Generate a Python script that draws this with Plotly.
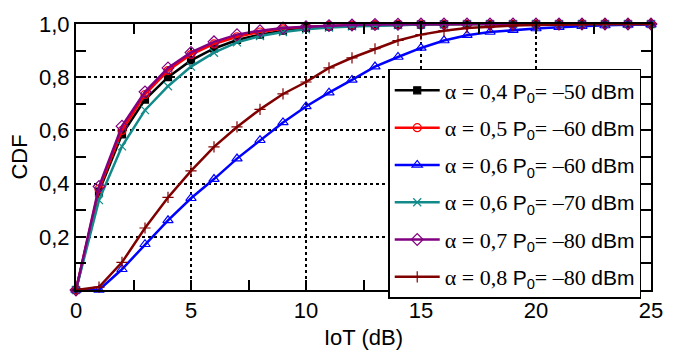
import plotly.graph_objects as go

x = list(range(26))

cdf_a04_p50 = [0, 0.37, 0.585, 0.716, 0.80, 0.863, 0.908, 0.94, 0.96, 0.975, 0.985, 0.99, 0.993, 0.995, 0.997, 0.998, 0.999, 1, 1, 1, 1, 1, 1, 1, 1, 1]
cdf_a05_p60 = [0, 0.38, 0.60, 0.735, 0.825, 0.885, 0.925, 0.952, 0.97, 0.982, 0.99, 0.994, 0.996, 0.998, 0.999, 1, 1, 1, 1, 1, 1, 1, 1, 1, 1, 1]
cdf_a06_p60 = [0, 0.0, 0.078, 0.172, 0.262, 0.345, 0.417, 0.494, 0.563, 0.63, 0.69, 0.742, 0.79, 0.84, 0.876, 0.91, 0.938, 0.958, 0.97, 0.977, 0.983, 0.988, 0.992, 0.995, 0.997, 0.998]
cdf_a06_p70 = [0, 0.338, 0.54, 0.676, 0.766, 0.84, 0.892, 0.931, 0.955, 0.97, 0.98, 0.987, 0.991, 0.994, 0.996, 0.998, 0.999, 1, 1, 1, 1, 1, 1, 1, 1, 1]
cdf_a07_p80 = [0, 0.389, 0.616, 0.745, 0.835, 0.893, 0.933, 0.96, 0.975, 0.985, 0.99, 0.994, 0.996, 0.998, 0.999, 1, 1, 1, 1, 1, 1, 1, 1, 1, 1, 1]
cdf_a08_p80 = [0, 0.011, 0.104, 0.233, 0.348, 0.448, 0.538, 0.613, 0.679, 0.737, 0.782, 0.835, 0.873, 0.907, 0.938, 0.96, 0.975, 0.985, 0.99, 0.994, 0.996, 0.998, 0.999, 1, 1, 1]

alphas = ["0,4", "0,5", "0,6", "0,6", "0,7", "0,8"]
p0s = ["50", "60", "60", "70", "80", "80"]
series = [cdf_a04_p50, cdf_a05_p60, cdf_a06_p60, cdf_a06_p70, cdf_a07_p80, cdf_a08_p80]
colors = ["#000000", "#ff0000", "#0000ff", "#128a8a", "#800080", "#800000"]
symbols = ["square", "circle-open", "triangle-up-open", "x-thin-open", "diamond-open", "cross-thin-open"]
msizes = [7, 8, 9, 8, 9, 8]

SERIF = "'Liberation Serif', 'Times New Roman', serif"
SANS = "Liberation Sans, Arial, sans-serif"

fig = go.Figure()
for i, (y, c, s, ms, a, p) in enumerate(zip(series, colors, symbols, msizes, alphas, p0s)):
    name = (f'<span style="font-family:{SERIF};font-size:22px">α = {a} </span>P<sub>0</sub>'
            f'<span style="font-family:{SERIF};font-size:22px">= –{p} </span>dBm')
    fig.add_trace(go.Scatter(
        x=x, y=y, mode="lines+markers", name=name,
        line=dict(color=c, width=2.5),
        marker=dict(symbol=s, size=ms, color=c, line=dict(color=c, width=1.2)),
        legendgroup=f"g{i}", cliponaxis=False,
    ))

fig.update_layout(
    width=675, height=358,
    margin=dict(l=76, r=13, t=15, b=52),
    paper_bgcolor="white", plot_bgcolor="white",
    separators=",.",
    font=dict(family=SANS, size=21, color="black"),
    showlegend=True,
    legend=dict(
        x=0.543, y=0.832, xanchor="left", yanchor="top",
        bgcolor="white", bordercolor="black", borderwidth=1.5,
        font=dict(family=SANS, size=21, color="black"),
        tracegroupgap=7, itemwidth=45,
    ),
)
fig.update_xaxes(
    range=[0, 25], tickvals=[0, 5, 10, 15, 20, 25],
    showline=True, linecolor="black", linewidth=2, mirror="ticks",
    ticks="inside", ticklen=10, tickwidth=1.5, tickcolor="black",
    showgrid=True, gridcolor="black", griddash="dot", gridwidth=1.5,
    zeroline=False,
    minor=dict(ticks="inside", tickvals=[2.5, 7.5, 12.5, 17.5, 22.5], ticklen=10, tickwidth=1.5, tickcolor="black", showgrid=False),
    title=dict(text="IoT (dB)", standoff=7, font=dict(size=22)),
    tickfont=dict(size=22),
)
fig.update_yaxes(
    range=[0, 1], tickvals=[0.2, 0.4, 0.6, 0.8, 1.0], tickformat=".1f",
    showline=True, linecolor="black", linewidth=2, mirror="ticks",
    ticks="inside", ticklen=10, tickwidth=1.5, tickcolor="black",
    showgrid=True, gridcolor="black", griddash="dot", gridwidth=1.5,
    zeroline=False,
    minor=dict(ticks="inside", tickvals=[0.1, 0.3, 0.5, 0.7, 0.9], ticklen=10, tickwidth=1.5, tickcolor="black", showgrid=False),
    title=dict(text="CDF", standoff=5, font=dict(size=22)),
    tickfont=dict(size=22),
)

fig.write_html("out.html")
